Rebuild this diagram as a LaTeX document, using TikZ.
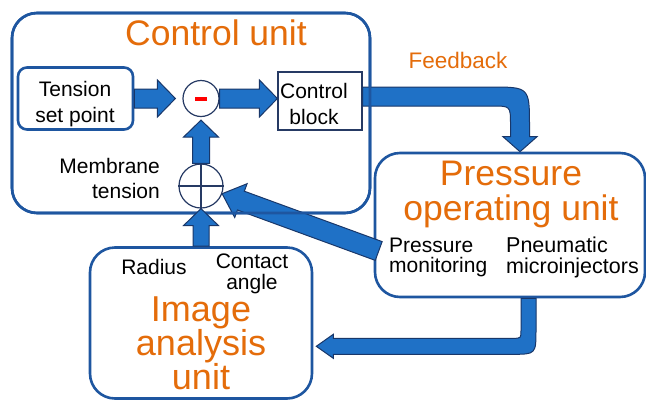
\documentclass[tikz,border=0pt]{standalone}
\usepackage{fontspec}
\setmainfont{Liberation Sans}
\usetikzlibrary{calc}
\definecolor{arrfill}{RGB}{31,113,198}
\definecolor{arrline}{RGB}{25,55,105}
\definecolor{boxline}{RGB}{30,86,160}
\definecolor{orng}{RGB}{228,108,10}
\definecolor{navy}{RGB}{38,58,100}
\newcommand\bigtxt{\fontsize{35.5}{35}\selectfont}
\newcommand\smalltxt{\fontsize{21}{24}\selectfont}
\newcommand\blockarr[5]{%
  \path (#2) coordinate (bqT) ($(#2)!#5!(#1)$) coordinate (bqB);
  \draw[blockarrow] ($(#1)!#3!90:(#2)$) -- ($(bqB)!#3!90:(bqT)$) -- ($(bqB)!#4!90:(bqT)$)
    -- (bqT) -- ($(bqB)!#4!-90:(bqT)$) -- ($(bqB)!#3!-90:(bqT)$) -- ($(#1)!#3!-90:(#2)$) -- cycle;}
\tikzset{
  unitbox/.style={draw=boxline, line width=2.6pt, rounded corners=25pt, inner sep=0pt},
  blockarrow/.style={fill=arrfill, draw=arrline, line width=1pt, line join=miter},
  title/.style={text=orng, font=\bigtxt, inner sep=0pt, align=center},
  lbl/.style={text=black, font=\smalltxt, inner sep=0pt},
  sumnode/.style={circle, draw=navy, line width=1.2pt, fill=white, inner sep=0pt},
}
\begin{document}
\begin{tikzpicture}[x=1pt,y=-1pt]
\useasboundingbox (0,0) rectangle (646,400);
% unit boxes
\node[unitbox, fill=white, minimum width=358pt, minimum height=200pt] (cu) at (191,113) {};
\node[unitbox, fill=white, minimum width=270pt, minimum height=144pt] (pou) at (510,225) {};
\node[unitbox, fill=white, minimum width=222pt, minimum height=151pt] (img) at (201,323) {};
% inner blocks
\node[draw=boxline, line width=2.6pt, rounded corners=9pt, minimum width=115pt, minimum height=62pt, inner sep=0pt] (tsp) at (75.5,98.5) {};
\node[draw=navy, line width=1.2pt, fill=white, minimum width=84pt, minimum height=58pt, inner sep=0pt] (ctrl) at (320,101) {};
\node[sumnode, minimum size=36pt] (minus) at (201,98.5) {};
\node[fill=red, minimum width=12pt, minimum height=4pt, inner sep=0pt] (mbar) at (201,98.7) {};
\node[sumnode, minimum size=44pt] (plus) at (201,186) {};
\draw[navy, line width=1.2pt] (plus.north) -- (plus.south) (plus.west) -- (plus.east);
% feedback arrow (control block -> pressure operating unit)
\coordinate (fbS) at ($(ctrl.east)+(0,-4.5)$);
\coordinate (fbT) at ($(pou.north)+(10,0)$);
\coordinate (fbC) at (fbT |- fbS);
\draw[blockarrow] ($(fbS)+(0,-9.5)$) -- ($(fbC)+(-30,-9.5)$) .. controls ($(fbC)+(9.5,-9.5)$) .. ($(fbC)+(9.5,30)$)
  -- ($(fbT)+(9.5,-15)$) -- ($(fbT)+(17,-15)$) -- (fbT) -- ($(fbT)+(-17,-15)$) -- ($(fbT)+(-9.5,-15)$)
  -- ($(fbC)+(-9.5,28)$) .. controls ($(fbC)+(-9.5,9.5)$) .. ($(fbC)+(-28,9.5)$) -- ($(fbS)+(0,9.5)$) -- cycle;
% bottom arrow (pressure operating unit -> image analysis unit)
\coordinate (bS) at ($(pou.south)+(18.5,0)$);
\coordinate (bC) at ($(bS)+(0,48)$);
\coordinate (bT) at ($(img.east |- bC)+(3,0)$);
\draw[blockarrow] ($(bS)+(-7.5,0)$) -- ($(bS)+(7.5,0)$) -- ($(bC)+(7.5,-17)$) .. controls ($(bC)+(7.5,8)$) .. ($(bC)+(-17,8)$)
  -- ($(bT)+(17,8)$) -- ($(bT)+(17,12)$) -- (bT) -- ($(bT)+(17,-12)$) -- ($(bT)+(17,-8)$)
  -- ($(bC)+(-15.5,-8)$) .. controls ($(bC)+(-7.5,-8)$) .. ($(bC)+(-7.5,-16)$) -- cycle;
% straight arrows
\coordinate (a1s) at (tsp.east |- minus.west);
\coordinate (a1e) at ($(minus.west)+(-7,0)$);
\blockarr{a1s}{a1e}{9.5pt}{18.5pt}{18pt}
\coordinate (a2e) at (minus.east -| ctrl.west);
\blockarr{minus.east}{a2e}{9.5pt}{18.5pt}{18pt}
\coordinate (a3e) at ($(minus.south)+(0,3)$);
\blockarr{plus.north}{a3e}{8.5pt}{17.5pt}{17pt}
\coordinate (dstart) at ($(pou.west)+(5,26)$);
\coordinate (dend) at ($(plus.center)!22.5pt!(dstart)$);
\blockarr{dstart}{dend}{10pt}{18pt}{20pt}
% control unit border over the arrows
\node[unitbox, minimum width=358pt, minimum height=200pt] (cuborder) at (cu) {};
\coordinate (a4s) at (img.north -| plus.south);
\blockarr{a4s}{plus.south}{8pt}{17.5pt}{17pt}
% texts
\node[title, anchor=base] (cutitle) at (216,45) {Control unit};
\node[title, font=\fontsize{35.5}{35}\selectfont] (poutitle) at (511,194.5) {Pressure\\operating unit};
\node[title, font=\fontsize{36}{34}\selectfont] (imgtitle) at (201,343.5) {Image\\analysis\\unit};
\node[lbl, text=orng, font=\fontsize{22.5}{24}\selectfont] (fbtxt) at (458,60.5) {Feedback};
\node[lbl, align=center, font=\fontsize{21}{25.5}\selectfont] (tsptxt) at (75,104) {Tension\\set point};
\node[lbl, align=center, font=\fontsize{21}{26}\selectfont] (ctrltxt) at (314,103.5) {Control\\block};
\node[lbl, align=right, anchor=east, font=\fontsize{21}{24.5}\selectfont] (memtxt) at (160,178.5) {Membrane\\tension};
\node[lbl, align=left, anchor=west, font=\fontsize{21}{20.5}\selectfont] (pmtxt) at (389,257.5) {Pressure\\monitoring};
\node[lbl, align=left, anchor=west, font=\fontsize{21.5}{20.5}\selectfont] (pntxt) at (506,257.5) {Pneumatic\\microinjectors};
\node[lbl] (radtxt) at (154,266.5) {Radius};
\node[lbl, align=center, font=\fontsize{21}{21.5}\selectfont] (catxt) at (252,274) {Contact\\angle};
\end{tikzpicture}
\end{document}
